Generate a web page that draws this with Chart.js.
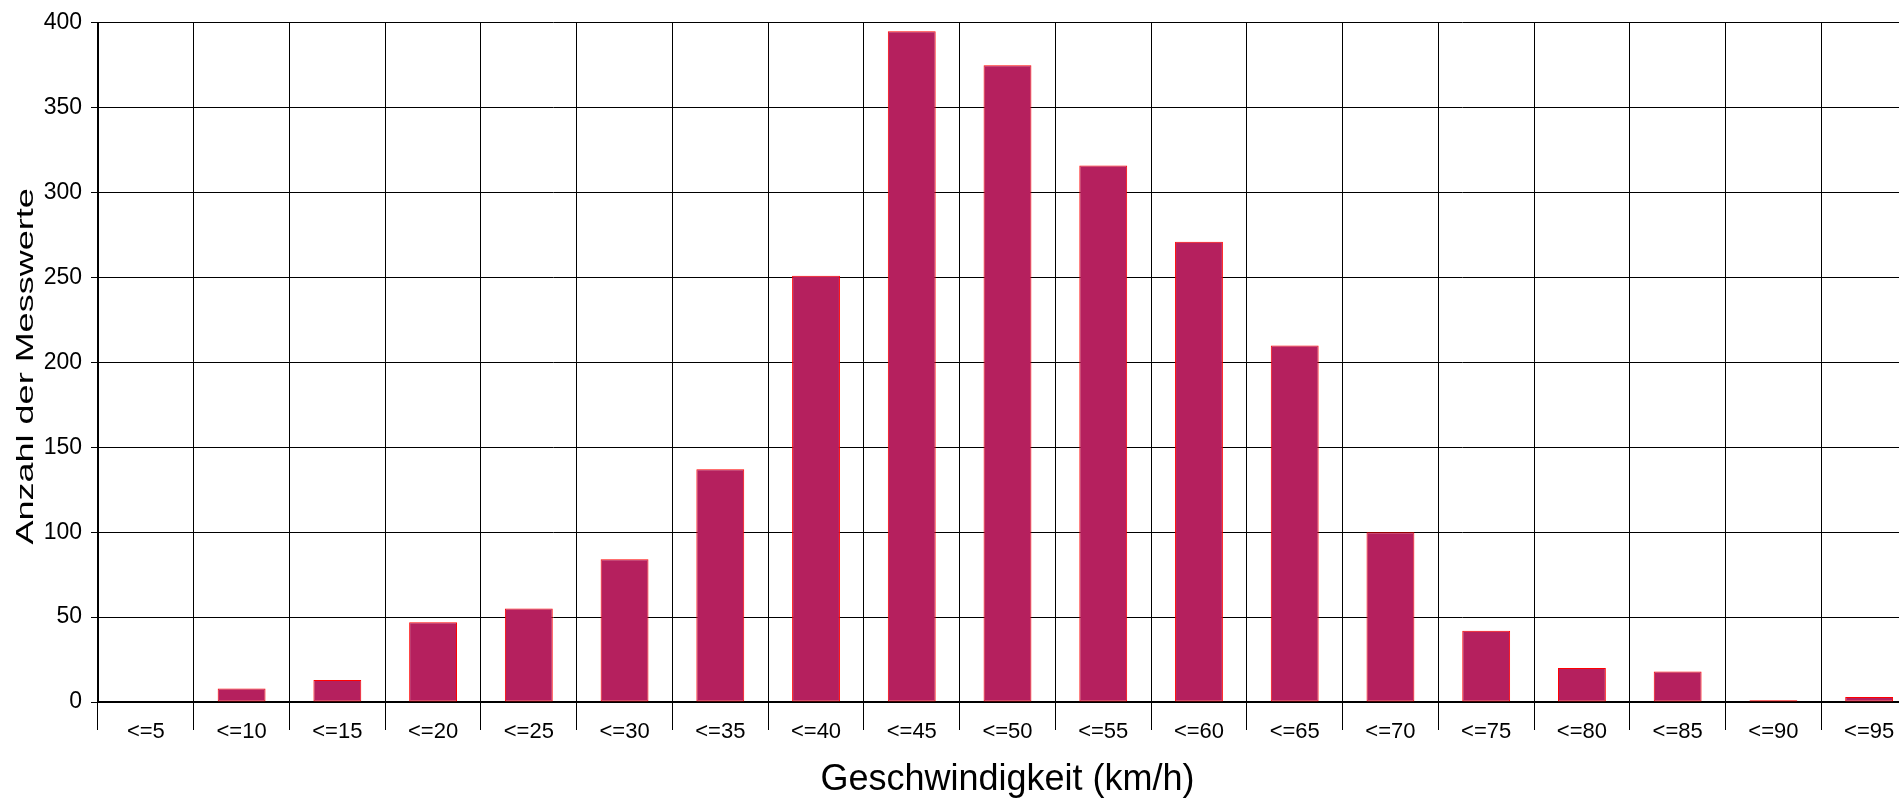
<!DOCTYPE html>
<html>
<head>
<meta charset="utf-8">
<script src="https://cdn.jsdelivr.net/npm/chart.js@4"></script>
<style>
  html, body { margin: 0; padding: 0; overflow: hidden; background: #fff; }
  #wrap { position: relative; width: 1917px; height: 799px; }
</style>
</head>
<body>
<div id="wrap"><canvas id="chart"></canvas></div>
<script>
// Messwerte je Geschwindigkeitsklasse
const categories = ['<=5', '<=10', '<=15', '<=20', '<=25', '<=30', '<=35', '<=40', '<=45', '<=50',
  '<=55', '<=60', '<=65', '<=70', '<=75', '<=80', '<=85', '<=90', '<=95'];
const counts = [0, 8, 13, 47, 55, 84, 137, 251, 395, 375, 316, 271, 210, 100, 42, 20, 18, 1, 3];
const yMin = 0;
const yMax = 400;
const yStep = 50;
const xTitle = 'Geschwindigkeit (km/h)';
const yTitle = 'Anzahl der Messwerte';

const fontFamily = '"Liberation Sans", Arial, sans-serif';

// the y title in the original is stretched along its length, chart.js can't do that itself
const yTitlePlugin = {
  id: 'yTitle',
  afterDraw(chart) {
    const ctx = chart.ctx;
    const area = chart.chartArea;
    ctx.save();
    ctx.translate(33, (area.top + area.bottom) / 2 + 4);
    ctx.rotate(-Math.PI / 2);
    ctx.scale(1.5, 1);
    ctx.font = '24px ' + fontFamily;
    ctx.fillStyle = '#000';
    ctx.textAlign = 'center';
    ctx.textBaseline = 'alphabetic';
    ctx.fillText(yTitle, 0, 0);
    ctx.restore();
  }
};

const ctx = document.getElementById('chart');

new Chart(ctx, {
  type: 'bar',
  plugins: [yTitlePlugin],
  data: {
    labels: categories,
    datasets: [{
      label: yTitle,
      data: counts,
      backgroundColor: '#B5205E',
      borderColor: '#FF0000',
      borderWidth: 1,
      borderSkipped: false,
      barPercentage: 0.5,
      categoryPercentage: 1.0
    }]
  },
  options: {
    responsive: true,
    maintainAspectRatio: false,
    animation: false,
    layout: {
      padding: { top: 17, right: 0, bottom: 0, left: 0 }
    },
    plugins: {
      legend: { display: false },
      tooltip: { enabled: false }
    },
    scales: {
      x: {
        grid: {
          color: '#000',
          lineWidth: 1,
          offset: true,
          tickLength: 28
        },
        border: { color: '#000', width: 2 },
        ticks: {
          color: '#000',
          padding: -11,
          maxRotation: 0,
          autoSkip: false,
          font: { family: fontFamily, size: 22 }
        },
        title: {
          display: true,
          text: xTitle,
          color: '#000',
          font: { family: fontFamily, size: 36, lineHeight: 1 },
          padding: { top: 0, bottom: 1 }
        },
        afterFit(scale) { scale.height = 97; }
      },
      y: {
        min: yMin,
        max: yMax,
        grid: {
          color: '#000',
          lineWidth: 1,
          tickLength: 7
        },
        border: { color: '#000', width: 2 },
        ticks: {
          stepSize: yStep,
          color: '#000',
          padding: 9,
          font: { family: fontFamily, size: 23 }
        },
        afterFit(scale) { scale.width = 98; }
      }
    }
  }
});
</script>
</body>
</html>
